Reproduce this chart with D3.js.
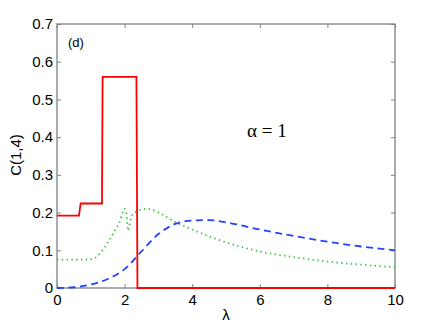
<!DOCTYPE html>
<html>
<head>
<meta charset="utf-8">
<script src="https://d3js.org/d3.v7.min.js"></script>
<style>
  body { margin: 0; background: #fff; }
  text { font-family: "Liberation Sans", Arial, sans-serif; }
</style>
</head>
<body>
<script>
  // data
  var xTicks = [0, 2, 4, 6, 8, 10];
  var yTicks = [0, 0.1, 0.2, 0.3, 0.4, 0.5, 0.6, 0.7];

  // solid red, step curve
  var redX = [0, 0.65, 0.7, 1.33, 1.35, 2.35, 2.38, 10];
  var redY = [0.192, 0.192, 0.224, 0.224, 0.56, 0.56, 0, 0];

  // dotted green
  var greenX = [0, 0.5, 1.0, 1.1, 1.3, 1.5, 1.7, 1.85, 2.0, 2.05, 2.1, 2.2, 2.35, 2.5, 2.7, 3.0, 3.5, 4.0, 4.5, 5.0, 6.0, 7.0, 8.0, 9.0, 10.0];
  var greenY = [0.075, 0.075, 0.076, 0.078, 0.095, 0.12, 0.15, 0.175, 0.21, 0.2, 0.152, 0.19, 0.203, 0.208, 0.21, 0.2, 0.175, 0.155, 0.137, 0.121, 0.097, 0.082, 0.07, 0.062, 0.055];

  // dashed blue
  var blueX = [0, 0.5, 1.0, 1.5, 2.0, 2.5, 3.0, 3.5, 4.0, 4.5, 5.0, 6.0, 7.0, 8.0, 9.0, 10.0];
  var blueY = [0, 0.002, 0.009, 0.024, 0.05, 0.097, 0.143, 0.17, 0.179, 0.18, 0.174, 0.155, 0.138, 0.123, 0.11, 0.1];

  var W = 436, H = 324;
  var pLeft = 57, pRight = 395, pTop = 24, pBottom = 288;

  var svg = d3.select("body").append("svg")
    .attr("width", W)
    .attr("height", H);

  var x = d3.scaleLinear().domain([0, 10]).range([pLeft, pRight]);
  var y = d3.scaleLinear().domain([0, 0.7]).range([pBottom, pTop]);

  var axisColor = "#808080";

  // axes: ticks point inward, box all round
  function styleAxis(g) {
    g.select(".domain").remove();
    g.selectAll(".tick line").attr("stroke", axisColor).attr("stroke-width", 1);
    g.selectAll(".tick text").attr("fill", "#000").style("font-size", "15px");
  }

  svg.append("g")
    .attr("transform", "translate(0," + pBottom + ")")
    .call(d3.axisBottom(x).tickValues(xTicks).tickSize(-4).tickPadding(6).tickFormat(d3.format("d")))
    .call(styleAxis);

  svg.append("g")
    .attr("transform", "translate(" + pLeft + ",0)")
    .call(d3.axisLeft(y).tickValues(yTicks).tickSize(-4).tickPadding(4)
      .tickFormat(function(d){ return d === 0 ? "0" : d3.format(".1f")(d); }))
    .call(styleAxis);

  svg.append("g")
    .attr("transform", "translate(0," + pTop + ")")
    .call(d3.axisTop(x).tickValues(xTicks).tickSize(-4).tickFormat(""))
    .call(styleAxis);

  svg.append("g")
    .attr("transform", "translate(" + pRight + ",0)")
    .call(d3.axisRight(y).tickValues(yTicks).tickSize(-4).tickFormat(""))
    .call(styleAxis);

  svg.append("rect")
    .attr("x", pLeft).attr("y", pTop)
    .attr("width", pRight - pLeft).attr("height", pBottom - pTop)
    .attr("fill", "none")
    .attr("stroke", axisColor)
    .attr("stroke-width", 1.3);

  // lines
  var line = d3.line()
    .x(function(d){ return x(d[0]); })
    .y(function(d){ return y(d[1]); });

  function pairs(xs, ys) {
    return xs.map(function(v, i){ return [v, ys[i]]; });
  }

  svg.append("path")
    .datum(pairs(greenX, greenY))
    .attr("d", line.curve(d3.curveMonotoneX))
    .attr("fill", "none")
    .attr("stroke", "#3cbf3c")
    .attr("stroke-width", 1.8)
    .attr("stroke-dasharray", "1.4,3.4");

  svg.append("path")
    .datum(pairs(blueX, blueY))
    .attr("d", line.curve(d3.curveMonotoneX))
    .attr("fill", "none")
    .attr("stroke", "#2244ff")
    .attr("stroke-width", 1.8)
    .attr("stroke-dasharray", "7,4.5");

  svg.append("path")
    .datum(pairs(redX, redY))
    .attr("d", line.curve(d3.curveLinear))
    .attr("fill", "none")
    .attr("stroke", "#ff0000")
    .attr("stroke-width", 1.8);

  // labels
  svg.append("text")
    .attr("transform", "translate(21,155) rotate(-90)")
    .attr("text-anchor", "middle")
    .style("font-size", "15px")
    .text("C(1,4)");

  svg.append("text")
    .attr("x", 226).attr("y", 320)
    .attr("text-anchor", "middle")
    .style("font-size", "15px")
    .text("λ");

  svg.append("text")
    .attr("x", 68).attr("y", 47)
    .style("font-size", "13px")
    .text("(d)");

  svg.append("text")
    .attr("x", 247).attr("y", 137)
    .style("font-family", "'Liberation Serif', 'Times New Roman', serif")
    .style("font-size", "19px")
    .text("α = 1");
</script>
</body>
</html>
